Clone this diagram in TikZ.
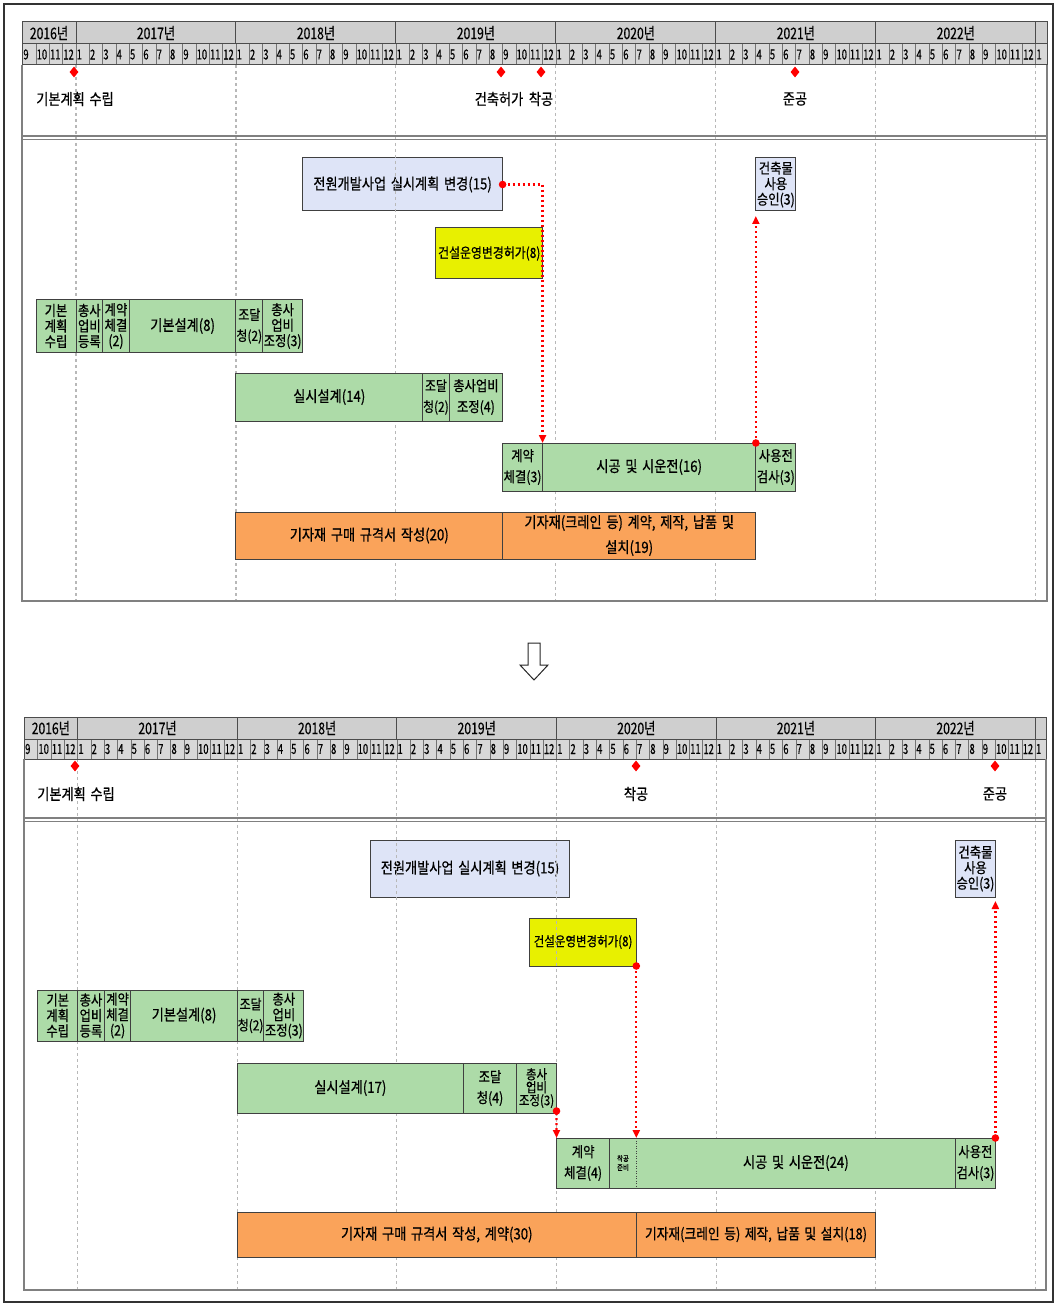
\documentclass[tikz,border=0pt]{standalone}
\usepackage{fontspec}
\setmainfont{Noto Sans CJK KR}[FakeStretch=0.85,WordSpace=1.6,FakeBold=0.6]
\newfontfamily\narrowkr{Noto Sans CJK KR}[FakeStretch=0.68,FakeBold=0.4]
\newfontfamily\yearkr{Noto Sans CJK KR}[FakeStretch=0.76,FakeBold=0.5]
\usetikzlibrary{arrows.meta,shapes.geometric}
\definecolor{tgreen}{RGB}{173,219,168}
\definecolor{tlav}{RGB}{222,228,247}
\definecolor{tyel}{RGB}{232,240,0}
\definecolor{torange}{RGB}{250,163,90}
\definecolor{hdr}{RGB}{207,207,207}
\definecolor{hdrm}{RGB}{216,216,216}

% #1 name, #2 style, #3 month from, #4 month to, #5 y top, #6 y bottom, #7 text
\newcommand{\gtask}[7]{%
  \pgfmathsetmacro\gtx{\gX+\gM*#3}%
  \pgfmathsetmacro\gtw{\gM*(#4-#3)}%
  \pgfmathsetmacro\gth{#6-#5}%
  \node[#2, minimum width=\gtw pt, minimum height=\gth pt, anchor=north west] (#1) at (\gtx,#5) {#7};}

% #1 x0, #2 month width, #3 left, #4 right, #5 top, #6 year bottom, #7 month bottom, #8 double line, #9 bottom
\newcommand{\ganttgrid}[9]{%
  \fill[hdr] (#3,#5) rectangle (#4,#6);
  \fill[hdrm] (#3,#6) rectangle (#4,#7);
  \foreach \k in {0,...,6}{\draw[gridl] ({#1+#2*(4+12*\k)},#7) -- ({#1+#2*(4+12*\k)},#9);}
  \foreach \i in {1,...,76}{\draw[mcell] ({#1+#2*\i},#6) -- ({#1+#2*\i},#7);}
  \foreach \i in {0,...,76}{\pgfmathtruncatemacro\gmo{mod(\i+8,12)+1}%
    \node[mlabel] (\pfx m\i) at ({#1+#2*\i+0.5},{(#6+#7)/2}) {\gmo};}
  \foreach \k in {0,...,6}{\draw[hline] ({#1+#2*(4+12*\k)},#5) -- ({#1+#2*(4+12*\k)},#6);}
  \node[ylabel] (\pfx y16) at ({(#3+#1+#2*4)/2},{(#5+#6)/2}) {2016년};
  \foreach \yr [count=\k from 0] in {2017,...,2022}{%
    \node[ylabel] (\pfx y\yr) at ({#1+#2*(10+12*\k)},{(#5+#6)/2}) {\yr{}년};}
  \draw[hline] (#3,#6) -- (#4,#6);
  \draw[hline] (#3,#5) rectangle (#4,#7);
  \draw[dblline] (#3,#8) -- (#4,#8);
  \draw[dblline] (#3,#8+3.5) -- (#4,#8+3.5);
  \draw[cframe] (#3,#7) -- (#3,#9) -- (#4,#9) -- (#4,#7);
}

\begin{document}
\begin{tikzpicture}[x=1pt,y=-1pt,
  box/.style={draw=black!75, line width=1pt, inner sep=0pt, outer sep=0pt, align=center,
    font=\fontsize{15.5}{17}\selectfont},
  grn/.style={box, fill=tgreen},
  grnf/.style={box, draw=none, fill=tgreen},
  lav/.style={box, fill=tlav},
  yel/.style={box, fill=tyel},
  org/.style={box, fill=torange},
  three/.style={font=\fontsize{14.5}{15.5}\selectfont},
  two/.style={font=\fontsize{14.5}{21}\selectfont},
  gridl/.style={draw=black!28, line width=1.1pt, dash pattern=on 3pt off 3pt},
  mcell/.style={draw=black!55, line width=0.8pt},
  hline/.style={draw=black!70, line width=1pt},
  dblline/.style={draw=black!50, line width=1.2pt},
  cframe/.style={draw=black!50, line width=1.3pt},
  mlabel/.style={anchor=west, inner sep=0pt, font=\narrowkr\fontsize{13.8}{14}\selectfont},
  ylabel/.style={inner sep=0pt, font=\yearkr\fontsize{16}{16}\selectfont},
  ms/.style={diamond, fill=red, inner sep=0pt, minimum width=9pt, minimum height=11pt},
  mslabel/.style={inner sep=0pt, font=\fontsize{15.5}{17}\selectfont},
  conn/.style={draw=red, line width=2.2pt, dash pattern=on 2.2pt off 2.8pt,
    -{Triangle[length=8pt,width=7pt,fill=red]}},
  reddot/.style={fill=red},
  bd/.style={draw=black!75, line width=1pt}]
\useasboundingbox (0,0) rectangle (1057,1305);
\draw[black!80, line width=1.2pt] (4,4) rectangle (1053,1302);

%================ TOP CHART =================
\def\gX{22.7}\def\gM{13.33}\def\pfx{T}
\gtask{tplan}{lav}{21}{36}{158}{211}{전원개발사업 실시계획 변경(15)}
\gtask{tpermit}{yel,font=\fontsize{14}{16}\selectfont}{31}{39}{228}{279}{건설운영변경허가(8)}
\gtask{tappr}{lav,three}{55}{58}{158}{211}{건축물\\사용\\승인(3)}
\ganttgrid{22.7}{13.33}{22}{1047}{22}{44}{65}{136}{601}
% row A
\gtask{ta1}{grn,three}{1}{4}{300}{352}{기본\\계획\\수립}
\gtask{ta2}{grn,three}{4}{6}{300}{352}{총사\\업비\\등록}
\gtask{ta3}{grn,three}{6}{8}{300}{352}{계약\\체결\\(2)}
\gtask{ta4}{grn}{8}{16}{300}{352}{기본설계(8)}
\gtask{ta5}{grn,font=\fontsize{14}{21}\selectfont}{16}{18}{300}{352}{조달\\청(2)}
\gtask{ta6}{grn,three}{18}{21}{300}{352}{총사\\업비\\조정(3)}
% row B
\gtask{tb1}{grn}{16}{30}{373}{421}{실시설계(14)}
\gtask{tb2}{grn,font=\fontsize{14}{21}\selectfont}{30}{32}{373}{421}{조달\\청(2)}
\gtask{tb3}{grn,two}{32}{36}{373}{421}{총사업비\\조정(4)}
% row C
\gtask{tc1}{grn,two}{36}{39}{443}{491}{계약\\체결(3)}
\gtask{tc2}{grn}{39}{55}{443}{491}{시공 및 시운전(16)}
\gtask{tc3}{grn,two}{55}{58}{443}{491}{사용전\\검사(3)}
% row D
\gtask{td1}{org}{16}{36}{512}{559}{기자재 구매 규격서 작성(20)}
\gtask{td2}{org,font=\fontsize{15.5}{25}\selectfont}{36}{55}{512}{559}{기자재(크레인 등) 계약, 제작, 납품 및\\설치(19)}
% milestones
\node[ms] (tm1) at (74,72) {};
\node[ms] (tm2) at (501,72) {};
\node[ms] (tm3) at (541,72) {};
\node[ms] (tm4) at (795,72) {};
\node[mslabel] (tl1) at (75,99) {기본계획 수립};
\node[mslabel] (tl2) at (499,99) {건축허가};
\node[mslabel] (tl3) at (541,99) {착공};
\node[mslabel] (tl4) at (795,99) {준공};
% connectors
\draw[conn] (tplan.east) -| (tc1.north east);
\fill[reddot] (tplan.east) circle (3.8pt);
\draw[conn, shorten >=5pt] (tc3.north west) -- (tappr.south west);
\fill[reddot] (tc3.north west) circle (3.8pt);

%================ ARROW =================
\draw[black!85, line width=1pt, fill=white] (528,643) -- (540,643) -- (540,665) -- (548,665) -- (534,680) -- (520,665) -- (528,665) -- cycle;

%================ BOTTOM CHART =================
\def\gX{24.5}\def\gM{13.3}\def\pfx{B}
\gtask{bplan}{lav}{26}{41}{840}{897}{전원개발사업 실시계획 변경(15)}
\gtask{bpermit}{yel,font=\fontsize{13.5}{15}\selectfont}{38}{46}{918}{966}{건설운영변경허가(8)}
\gtask{bappr}{lav,three}{70}{73}{840}{897}{건축물\\사용\\승인(3)}
\ganttgrid{24.5}{13.3}{24}{1046}{717}{739}{759}{818}{1290}
% row A
\gtask{ba1}{grn,three}{1}{4}{990}{1041}{기본\\계획\\수립}
\gtask{ba2}{grn,three}{4}{6}{990}{1041}{총사\\업비\\등록}
\gtask{ba3}{grn,three}{6}{8}{990}{1041}{계약\\체결\\(2)}
\gtask{ba4}{grn}{8}{16}{990}{1041}{기본설계(8)}
\gtask{ba5}{grn,font=\fontsize{14}{21}\selectfont}{16}{18}{990}{1041}{조달\\청(2)}
\gtask{ba6}{grn,three}{18}{21}{990}{1041}{총사\\업비\\조정(3)}
% row B
\gtask{bb1}{grn}{16}{33}{1063}{1113}{실시설계(17)}
\gtask{bb2}{grn,two}{33}{37}{1063}{1113}{조달\\청(4)}
\gtask{bb3}{grn,font=\fontsize{13.5}{13}\selectfont}{37}{40}{1063}{1113}{총사\\업비\\조정(3)}
% row C
\gtask{bc1}{grnf,two}{40}{44}{1138}{1188}{계약\\체결(4)}
\gtask{bc2}{grnf,font=\fontsize{7.5}{9}\selectfont}{44}{46}{1138}{1188}{착공\\준비}
\gtask{bc3}{grnf}{46}{70}{1138}{1188}{시공 및 시운전(24)}
\gtask{bc4}{grnf,two}{70}{73}{1138}{1188}{사용전\\검사(3)}
\draw[bd] (bc1.north west) rectangle (bc4.south east);
\draw[bd] (bc1.north east) -- (bc1.south east);
\draw[bd, dash pattern=on 1pt off 1.5pt] (bc2.north east) -- (bc2.south east);
\draw[bd] (bc3.north east) -- (bc3.south east);
% row D
\gtask{bd1}{org}{16}{46}{1212}{1257}{기자재 구매 규격서 작성, 계약(30)}
\gtask{bd2}{org,font=\fontsize{15}{17}\selectfont}{46}{64}{1212}{1257}{기자재(크레인 등) 제작, 납품 및 설치(18)}
% milestones
\node[ms] (bm1) at (75,766) {};
\node[ms] (bm2) at (636,766) {};
\node[ms] (bm3) at (995,766) {};
\node[mslabel] (bl1) at (76,794) {기본계획 수립};
\node[mslabel] (bl2) at (636,794) {착공};
\node[mslabel] (bl3) at (995,794) {준공};
% connectors
\draw[conn] (bb3.south east) -- (bc1.north west);
\fill[reddot] ([yshift=2pt]bb3.south east) circle (3.8pt);
\draw[conn] (bpermit.south east) -- (bc2.north east);
\fill[reddot] (bpermit.south east) circle (3.8pt);
\draw[conn, shorten >=4pt] (bc4.north east) -- (bappr.south east);
\fill[reddot] (bc4.north east) circle (3.8pt);
\end{tikzpicture}
\end{document}
